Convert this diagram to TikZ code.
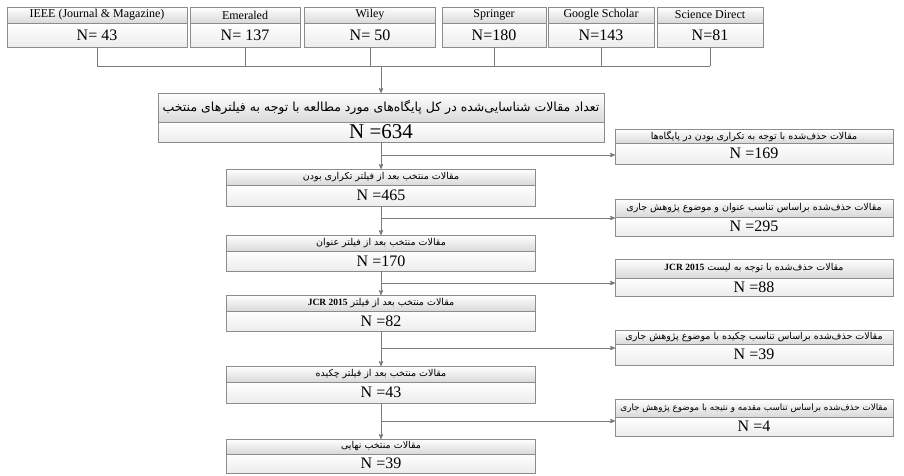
\documentclass[tikz,border=0pt]{standalone}
\usepackage{fontspec}
\setmainfont{Liberation Serif}
\newfontfamily\farsi[Script=Arabic]{DejaVu Sans}
\TeXXeTstate=1
\usetikzlibrary{arrows,positioning}
\definecolor{boxgray}{HTML}{8C8C8C}
\definecolor{linegray}{HTML}{7A7A7A}
\definecolor{headgray}{HTML}{D9D9D9}
\definecolor{countgray}{HTML}{ECECEC}
\newcommand{\fatext}[1]{{\farsi\beginR #1\endR}}

\begin{document}
\begin{tikzpicture}[x=1pt,y=-1pt,>=stealth',
  head node/.style={draw=boxgray,top color=white,bottom color=headgray,inner sep=0pt,outer sep=0pt,minimum height=16pt,font=\fontsize{9.5}{10}\selectfont},
  count node/.style={draw=boxgray,top color=white,bottom color=countgray,inner sep=0pt,outer sep=0pt,minimum height=21pt,font=\rmfamily\fontsize{16}{16}\selectfont},
  link/.style={draw=linegray,line width=0.8pt}]
  \useasboundingbox (0,0) rectangle (904,475);

  % databases
  \node[head node, minimum width=180pt, font=\fontsize{12}{12}\selectfont] (ieee) at (97,15) {IEEE (Journal \& Magazine)};
  \node[count node, minimum width=180pt, minimum height=24pt] (ieeeN) [below=0pt of ieee] {N= 43};
  \node[head node, minimum width=110pt, font=\fontsize{12}{12}\selectfont] (emerald) at (245,15) {Emeraled};
  \node[count node, minimum width=110pt, minimum height=24pt] (emeraldN) [below=0pt of emerald] {N= 137};
  \node[head node, minimum width=131pt, font=\fontsize{12}{12}\selectfont] (wiley) at (370,15) {Wiley};
  \node[count node, minimum width=131pt, minimum height=24pt] (wileyN) [below=0pt of wiley] {N= 50};
  \node[head node, minimum width=104pt, font=\fontsize{12}{12}\selectfont] (springer) at (494,15) {Springer};
  \node[count node, minimum width=104pt, minimum height=24pt] (springerN) [below=0pt of springer] {N=180};
  \node[head node, minimum width=106pt, font=\fontsize{12}{12}\selectfont] (google) at (601,15) {Google Scholar};
  \node[count node, minimum width=106pt, minimum height=24pt] (googleN) [below=0pt of google] {N=143};
  \node[head node, minimum width=106pt, font=\fontsize{12}{12}\selectfont] (scidir) at (710,15) {Science Direct};
  \node[count node, minimum width=106pt, minimum height=24pt] (scidirN) [below=0pt of scidir] {N=81};

  % total
  \node[head node, minimum width=446pt, minimum height=29pt, font=\fontsize{12.5}{13}\selectfont] (total) at (381,107.5)
    {\fatext{تعداد مقالات شناسایی‌شده در کل پایگاه‌های مورد مطالعه با توجه به فیلترهای منتخب}};
  \node[count node, minimum width=446pt, minimum height=20pt, font=\rmfamily\fontsize{21}{21}\selectfont] (totalN) [below=0pt of total] {N =634};

  % selected
  \node[head node, minimum width=309pt] (dup) at (381,177) {\fatext{مقالات منتخب بعد از فیلتر تکراری بودن}};
  \node[count node, minimum width=309pt] (dupN) [below=0pt of dup] {N =465};
  \node[head node, minimum width=309pt] (title) at (381,243) {\fatext{مقالات منتخب بعد از فیلتر عنوان}};
  \node[count node, minimum width=309pt, minimum height=20pt] (titleN) [below=0pt of title] {N =170};
  \node[head node, minimum width=309pt] (jcr) at (381,303) {\fatext{مقالات منتخب بعد از فیلتر \beginL{\rmfamily\bfseries JCR 2015}\endL}};
  \node[count node, minimum width=309pt, minimum height=20pt] (jcrN) [below=0pt of jcr] {N =82};
  \node[head node, minimum width=309pt] (abs) at (381,374) {\fatext{مقالات منتخب بعد از فیلتر چکیده}};
  \node[count node, minimum width=309pt] (absN) [below=0pt of abs] {N =43};
  \node[head node, minimum width=309pt, minimum height=15pt] (final) at (381,446.5) {\fatext{مقالات منتخب نهایی}};
  \node[count node, minimum width=309pt, minimum height=19pt] (finalN) [below=0pt of final] {N =39};

  % removed
  \node[head node, minimum width=278pt, minimum height=14pt] (rdup) at (754,136) {\fatext{مقالات حذف‌شده با توجه به تکراری بودن در پایگاه‌ها}};
  \node[count node, minimum width=278pt] (rdupN) [below=0pt of rdup] {N =169};
  \node[head node, minimum width=278pt, minimum height=18pt] (rtitle) at (754,208) {\fatext{مقالات حذف‌شده براساس تناسب عنوان و موضوع پژوهش جاری}};
  \node[count node, minimum width=278pt, minimum height=19pt] (rtitleN) [below=0pt of rtitle] {N =295};
  \node[head node, minimum width=278pt, minimum height=19pt] (rjcr) at (754,268.5) {\fatext{مقالات حذف‌شده با توجه به لیست \beginL{\rmfamily\bfseries JCR 2015}\endL}};
  \node[count node, minimum width=278pt, minimum height=18pt] (rjcrN) [below=0pt of rjcr] {N =88};
  \node[head node, minimum width=278pt, minimum height=14pt] (rabs) at (754,337) {\fatext{مقالات حذف‌شده براساس تناسب چکیده با موضوع پژوهش جاری}};
  \node[count node, minimum width=278pt] (rabsN) [below=0pt of rabs] {N =39};
  \node[head node, minimum width=278pt, minimum height=18pt, font=\fontsize{8.8}{10}\selectfont] (rintro) at (754,408) {\fatext{مقالات حذف‌شده براساس تناسب مقدمه و نتیجه با موضوع پژوهش جاری}};
  \node[count node, minimum width=278pt, minimum height=19pt] (rintroN) [below=0pt of rintro] {N =4};

  % merge of the databases
  \coordinate (merge) at (381,66);
  \foreach \db in {ieeeN,emeraldN,wileyN,springerN,googleN,scidirN}
    \draw[link] (\db.south) -- (\db.south |- merge);
  \draw[link] (ieeeN.south |- merge) -- (scidirN.south |- merge);
  \draw[link,->] (merge) -- (total.north);

  % main flow
  \draw[link,->] (totalN.south) -- (dup.north);
  \draw[link,->] (dupN.south) -- (title.north);
  \draw[link,->] (titleN.south) -- (jcr.north);
  \draw[link,->] (jcrN.south) -- (abs.north);
  \draw[link,->] (absN.south) -- (final.north);

  % branches
  \coordinate (b1) at (381,155);
  \coordinate (b2) at (381,218);
  \coordinate (b3) at (381,283);
  \coordinate (b4) at (381,348);
  \coordinate (b5) at (381,421);
  \draw[link,->] (b1) -- (b1 -| rdupN.west);
  \draw[link,->] (b2) -- (b2 -| rtitleN.west);
  \draw[link,->] (b3) -- (b3 -| rjcrN.west);
  \draw[link,->] (b4) -- (b4 -| rabsN.west);
  \draw[link,->] (b5) -- (b5 -| rintroN.west);
\end{tikzpicture}
\end{document}
